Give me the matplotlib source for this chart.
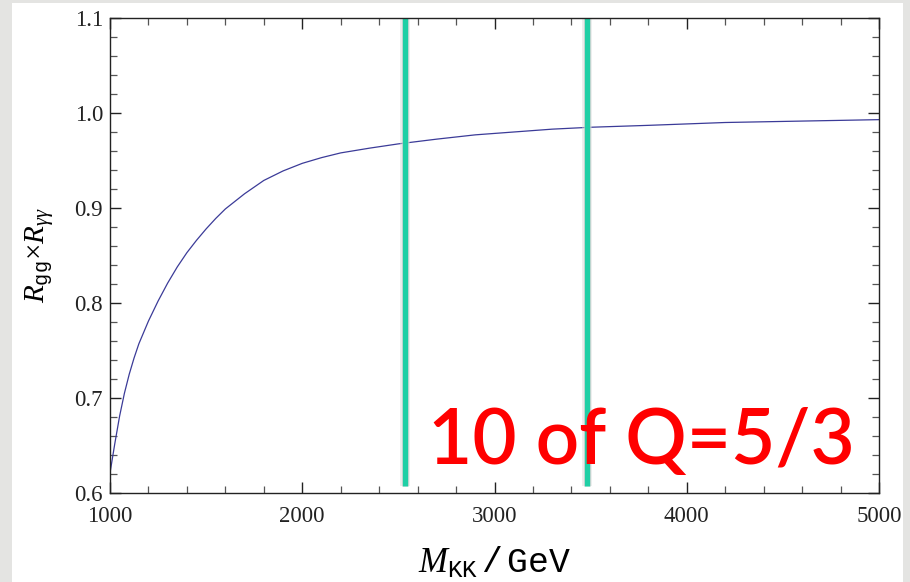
import matplotlib
matplotlib.use("Agg")
import matplotlib.pyplot as plt
from matplotlib.patches import Rectangle
from matplotlib.ticker import MultipleLocator, FormatStrFormatter
import matplotlib.patheffects as pe

plt.rcParams['font.family'] = ['Liberation Serif', 'DejaVu Serif']
plt.rcParams['mathtext.fontset'] = 'custom'
plt.rcParams['mathtext.rm'] = 'Liberation Serif'
plt.rcParams['mathtext.it'] = 'Liberation Serif:italic'
plt.rcParams['mathtext.tt'] = 'Liberation Mono'

# KK mass (GeV) and the combined ratio R_gg x R_yy
m_kk = [1000, 1025, 1050, 1075, 1100, 1125, 1150, 1200, 1250, 1300, 1350,
        1400, 1450, 1500, 1550, 1600, 1700, 1800, 1900, 2000, 2100, 2200,
        2350, 2500, 2700, 2900, 3100, 3300, 3500, 3800, 4200, 4600, 5000]
ratio = [0.621, 0.652, 0.681, 0.705, 0.725, 0.742, 0.757, 0.781, 0.802,
         0.821, 0.838, 0.853, 0.866, 0.878, 0.889, 0.899, 0.915, 0.929,
         0.939, 0.947, 0.953, 0.958, 0.963, 0.9675, 0.9725, 0.977, 0.980,
         0.983, 0.985, 0.987, 0.990, 0.9915, 0.993]

# mass bounds marked with vertical bars
bounds = [2535, 3480]
note = "10 of Q=5/3"

fig = plt.figure(figsize=(9.1, 5.82), dpi=100)
fig.patch.set_facecolor('#e4e4e2')
fig.patches.append(Rectangle((12 / 910, 0), 891 / 910, 1 - 3 / 582,
                             transform=fig.transFigure, facecolor='white',
                             edgecolor='none', zorder=-5))

ax = fig.add_axes([110 / 910, 1 - 493 / 582, 769 / 910, 475 / 582])
ax.set_facecolor('white')
ax.plot(m_kk, ratio, color='#3b3b98', linewidth=0.9)

for b in bounds:
    ax.plot([b, b], [0.607, 1.1], color='#1fcfa5', linewidth=3.8,
            solid_capstyle='butt', clip_on=False,
            path_effects=[pe.Stroke(linewidth=7, foreground='#d8d8d8', alpha=0.5),
                          pe.Stroke(linewidth=5, foreground='#c8c8c8', alpha=0.6),
                          pe.Normal()])

ax.set_xlim(1000, 5000)
ax.set_ylim(0.6, 1.1)
ax.xaxis.set_major_locator(MultipleLocator(1000))
ax.xaxis.set_minor_locator(MultipleLocator(200))
ax.yaxis.set_major_locator(MultipleLocator(0.1))
ax.yaxis.set_minor_locator(MultipleLocator(0.02))
ax.tick_params(which='both', direction='in', top=True, right=True,
               labelsize=16.5, colors='#222222')
ax.tick_params(which='major', length=8, width=1.0)
ax.tick_params(which='minor', length=5, width=0.9, color='#555555')
ax.tick_params(axis='x', pad=9)
ax.tick_params(axis='y', pad=5)
ax.yaxis.set_major_formatter(FormatStrFormatter('%.1f'))
for s in ax.spines.values():
    s.set_linewidth(1.0)
    s.set_color('#222222')

ax.set_xlabel(r'$M_{\mathtt{KK}}\,\mathtt{/\,GeV}$', fontsize=25, labelpad=14)
ax.set_ylabel(r'$R_{\mathtt{gg}}{\times}R_{\gamma\gamma}$', fontsize=21, labelpad=13)

# red note, sized so it spans the lower right part of the frame
txt = fig.text(428 / 910, 1 - 464 / 582, note, color='red', fontsize=50,
               family=['Lato', 'DejaVu Sans'], weight='semibold',
               ha='left', va='baseline')
renderer = fig.canvas.get_renderer()
w = txt.get_window_extent(renderer).width
txt.set_fontsize(50 * 427 / w)

fig.savefig('out.png', dpi=100, facecolor=fig.get_facecolor())
